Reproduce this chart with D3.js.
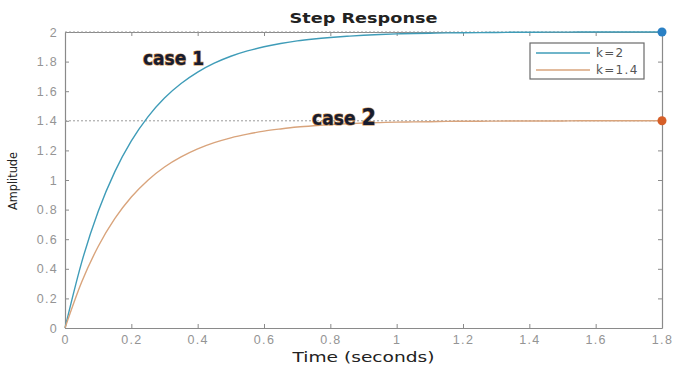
<!DOCTYPE html>
<html>
<head>
<meta charset="utf-8">
<script src="https://cdn.jsdelivr.net/npm/d3@7"></script>
<style>
  body { margin: 0; background: #fff; }
  svg { display: block; font-family: "DejaVu Sans", "Liberation Sans", Arial, sans-serif; }
</style>
</head>
<body>
<div class="container"></div>
<script>
// DATA
const times = [0, 0.05, 0.1, 0.15, 0.2, 0.25, 0.3, 0.35, 0.4, 0.45, 0.5, 0.55, 0.6, 0.65, 0.7, 0.75, 0.8, 0.85, 0.9, 0.95,
               1.0, 1.05, 1.1, 1.15, 1.2, 1.25, 1.3, 1.35, 1.4, 1.45, 1.5, 1.55, 1.6, 1.65, 1.7, 1.75, 1.8];
const case1 = [0, 0.442, 0.787, 1.055, 1.264, 1.427, 1.554, 1.652, 1.729, 1.789, 1.836, 1.872, 1.900, 1.922, 1.940, 1.953, 1.963, 1.971, 1.978, 1.983,
               1.987, 1.990, 1.992, 1.994, 1.995, 1.996, 1.997, 1.998, 1.998, 1.999, 1.999, 2, 2, 2, 2, 2, 2];
const case2 = [0, 0.309, 0.551, 0.739, 0.885, 0.999, 1.088, 1.156, 1.210, 1.252, 1.285, 1.310, 1.330, 1.345, 1.358, 1.367, 1.374, 1.380, 1.385, 1.388,
               1.391, 1.393, 1.394, 1.396, 1.397, 1.397, 1.398, 1.399, 1.399, 1.399, 1.399, 1.4, 1.4, 1.4, 1.4, 1.4, 1.4];
const seriesNames = ["k=2", "k=1.4"];
const finalValues = [2, 1.4];
const xTicks = [0, 0.2, 0.4, 0.6, 0.8, 1, 1.2, 1.4, 1.6, 1.8];
const yTicks = [0, 0.2, 0.4, 0.6, 0.8, 1, 1.2, 1.4, 1.6, 1.8, 2];

// SETUP
const margin = { top: 32, right: 13, bottom: 39, left: 65 };
const width = 675 - margin.left - margin.right,
      height = 367 - margin.top - margin.bottom;

const lineColors = ["#3f9cb8", "#d9a47c"];
const dotColors = ["#2a80c4", "#d65f28"];

const svg = d3.select("div.container")
  .append("svg")
  .attr("width", 675)
  .attr("height", 367);

const g = svg.append("g")
  .attr("transform", `translate(${margin.left}, ${margin.top})`);

const x = d3.scaleLinear().domain([0, 1.8]).range([0, width]);
const y = d3.scaleLinear().domain([0, 2]).range([height, 0]);

// axes, MATLAB style: ticks inside, box on
const fmt = d => d3.format("~g")(d);
const axisColor = "#8a8a8a";

const xAxis = g.append("g")
  .attr("transform", `translate(0, ${height})`)
  .call(d3.axisBottom(x).tickValues(xTicks).tickFormat(fmt).tickSizeInner(-4).tickSizeOuter(0).tickPadding(7));
const yAxis = g.append("g")
  .call(d3.axisLeft(y).tickValues(yTicks).tickFormat(fmt).tickSizeInner(-4).tickSizeOuter(0).tickPadding(7));
const xTop = g.append("g")
  .call(d3.axisTop(x).tickValues(xTicks).tickFormat("").tickSizeInner(-4).tickSizeOuter(0));
const yRight = g.append("g")
  .attr("transform", `translate(${width}, 0)`)
  .call(d3.axisRight(y).tickValues(yTicks).tickFormat("").tickSizeInner(-4).tickSizeOuter(0));

[xAxis, yAxis, xTop, yRight].forEach(a => {
  a.select(".domain").attr("stroke", axisColor).attr("stroke-width", 1.2);
  a.selectAll(".tick line").attr("stroke", axisColor);
  a.selectAll(".tick text")
    .attr("fill", "#949494")
    .style("font-size", "12.5px")
    .style("letter-spacing", "1.3px");
});

// dotted steady state lines
g.selectAll("line.ref")
  .data(finalValues)
  .enter()
  .append("line")
  .attr("class", "ref")
  .attr("x1", 0)
  .attr("x2", width)
  .attr("y1", d => y(d))
  .attr("y2", d => y(d))
  .attr("stroke", "#9a9a9a")
  .attr("stroke-dasharray", "2,2");

// response curves
const line = d3.line()
  .x((d, i) => x(times[i]))
  .y(d => y(d))
  .curve(d3.curveMonotoneX);

g.selectAll("path.resp")
  .data([case1, case2])
  .enter()
  .append("path")
  .attr("class", "resp")
  .attr("d", line)
  .attr("fill", "none")
  .attr("stroke", (d, i) => lineColors[i])
  .attr("stroke-width", 1.4);

// end markers
g.selectAll("circle.end")
  .data(finalValues)
  .enter()
  .append("circle")
  .attr("cx", x(1.8))
  .attr("cy", d => y(d))
  .attr("r", 4.5)
  .attr("fill", (d, i) => dotColors[i]);

// legend
const legend = g.append("g")
  .attr("transform", `translate(${width - 132}, 11)`);
legend.append("rect")
  .attr("width", 114)
  .attr("height", 36)
  .attr("fill", "#fff")
  .attr("stroke", "#6a6a6a")
  .attr("stroke-width", 1.2);
const items = legend.selectAll("g.item")
  .data(seriesNames)
  .enter()
  .append("g")
  .attr("transform", (d, i) => `translate(0, ${10 + i * 17})`);
items.append("line")
  .attr("x1", 6).attr("x2", 60)
  .attr("stroke", (d, i) => lineColors[i])
  .attr("stroke-width", 1.4);
items.append("text")
  .attr("x", 66)
  .attr("dy", "0.35em")
  .attr("fill", "#555")
  .style("font-size", "12px")
  .style("letter-spacing", "1.3px")
  .text(d => d);

// annotations
const notes = [
  { word: "case", num: "1", t: 0.235, v: 1.78, size: 19 },
  { word: "case", num: "2", t: 0.745, v: 1.375, size: 23 }
];
const note = g.selectAll("text.note")
  .data(notes)
  .enter()
  .append("text")
  .attr("class", "note")
  .attr("x", d => x(d.t))
  .attr("y", d => y(d.v))
  .attr("font-family", "'DejaVu Sans Condensed', 'Liberation Sans Narrow', sans-serif")
  .attr("font-weight", "bold")
  .attr("font-size", "19px")
  .attr("fill", "#161c30")
  .attr("stroke", "#c98a4a")
  .attr("stroke-width", 1.2)
  .attr("paint-order", "stroke");
note.append("tspan").text(d => d.word + " ");
note.append("tspan")
  .attr("font-size", d => d.size + "px")
  .text(d => d.num);

// titles
svg.append("text")
  .attr("x", margin.left + width / 2)
  .attr("y", 23)
  .attr("text-anchor", "middle")
  .attr("font-weight", "bold")
  .attr("textLength", 148)
  .attr("lengthAdjust", "spacingAndGlyphs")
  .style("font-size", "13.5px")
  .attr("fill", "#222")
  .text("Step Response");

svg.append("text")
  .attr("x", margin.left + width / 2)
  .attr("y", 362)
  .attr("text-anchor", "middle")
  .attr("textLength", 142)
  .attr("lengthAdjust", "spacingAndGlyphs")
  .style("font-size", "13.5px")
  .attr("fill", "#222")
  .text("Time (seconds)");

svg.append("text")
  .attr("transform", `translate(17, 181) rotate(-90)`)
  .attr("text-anchor", "middle")
  .attr("textLength", 58)
  .attr("lengthAdjust", "spacingAndGlyphs")
  .style("font-size", "12px")
  .attr("fill", "#222")
  .text("Amplitude");
</script>
</body>
</html>
